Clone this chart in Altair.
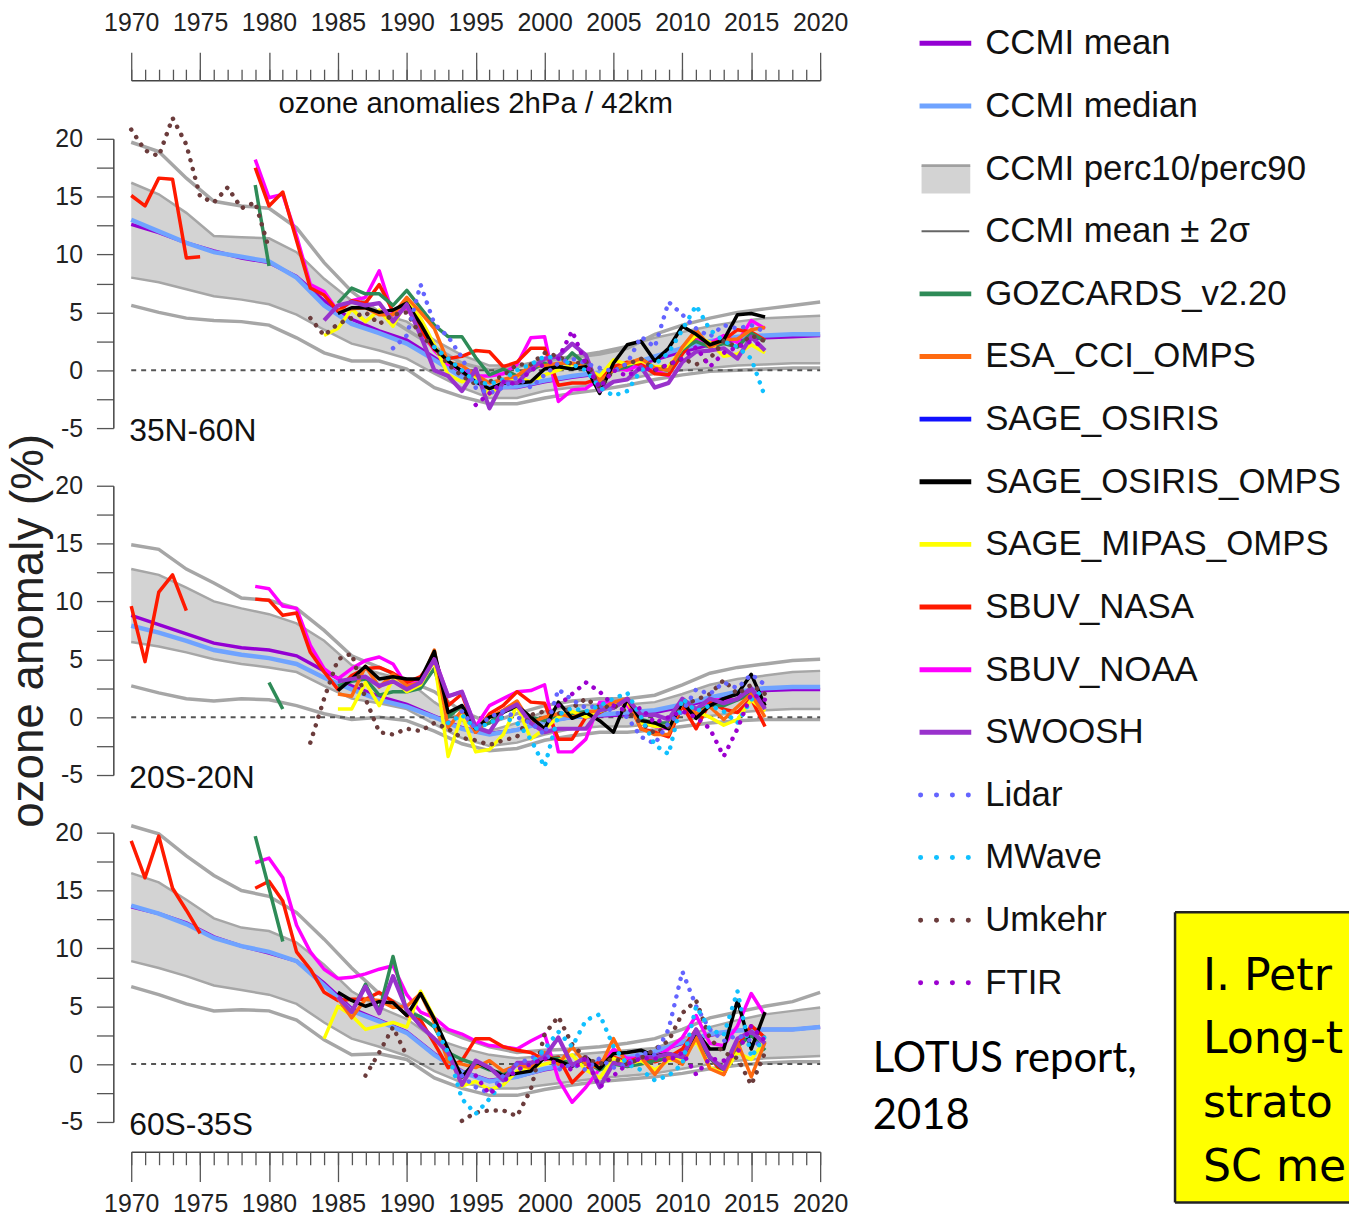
import altair as alt
import pandas as pd

# ---------------------------------------------------------------- data
MODEL_YEARS = list(range(1970, 2021, 2))

# Panel 1: 35N-60N  (CCMI model statistics)
P1_UP2 = [19.7, 18.9, 16.6, 14.6, 14.2, 14.0, 12.3, 9.3, 6.8, 5.0, 3.5, 2.0, 0.6, 0.0, 0.3, 0.8, 1.1, 1.4, 1.9, 3.1, 3.9, 4.5, 5.0, 5.3, 5.6, 5.9]
P1_P90 = [16.2, 15.2, 13.6, 11.6, 11.5, 11.4, 10.2, 7.9, 6.0, 4.9, 4.2, 2.6, 1.3, 0.4, 0.4, 0.9, 1.2, 1.6, 2.1, 2.8, 3.3, 3.8, 4.2, 4.5, 4.6, 4.7]
P1_P10 = [8.0, 7.6, 7.0, 6.4, 6.1, 5.7, 4.8, 3.5, 2.3, 1.7, 1.0, -0.3, -1.5, -2.4, -2.4, -1.8, -1.5, -1.2, -0.8, -0.3, 0.0, 0.2, 0.4, 0.5, 0.6, 0.6]
P1_LO2 = [5.6, 5.0, 4.5, 4.3, 4.2, 3.9, 2.8, 1.5, 0.8, 0.8, 0.1, -1.5, -2.3, -2.9, -2.9, -2.4, -2.0, -1.7, -1.3, -0.8, -0.4, -0.1, 0.0, 0.1, 0.2, 0.2]
P1_MEAN = [12.6, 11.9, 11.0, 10.3, 9.7, 9.3, 8.1, 6.0, 4.4, 3.4, 2.6, 1.1, -0.5, -1.5, -1.5, -1.0, -0.6, -0.3, 0.2, 0.9, 1.6, 2.2, 2.6, 2.8, 2.9, 3.0]
P1_MEDIAN = [13.0, 12.0, 11.0, 10.2, 9.8, 9.4, 8.0, 5.6, 4.0, 3.2, 2.3, 0.9, -0.6, -1.5, -1.4, -0.9, -0.5, -0.2, 0.4, 1.2, 1.9, 2.5, 2.9, 3.0, 3.1, 3.1]

# Panel 2: 20S-20N
P2_UP2 = [14.9, 14.5, 12.8, 11.6, 10.3, 10.1, 9.4, 7.5, 5.3, 4.3, 3.2, 2.2, 0.5, -0.5, 0.3, 1.0, 1.4, 1.6, 1.6, 1.9, 2.8, 3.8, 4.3, 4.6, 4.9, 5.0]
P2_P90 = [12.8, 12.3, 11.2, 10.0, 9.4, 8.9, 8.1, 6.6, 4.5, 3.8, 3.2, 1.3, -0.3, -1.2, -0.5, 0.5, 1.0, 1.1, 1.1, 1.3, 2.0, 2.8, 3.3, 3.6, 3.9, 4.0]
P2_P10 = [6.5, 6.1, 5.6, 5.0, 4.6, 4.3, 3.9, 2.7, 1.6, 1.2, 0.7, -0.6, -1.8, -2.5, -2.2, -1.5, -1.0, -0.8, -0.8, -0.6, -0.3, 0.1, 0.4, 0.6, 0.7, 0.7]
P2_LO2 = [2.7, 2.1, 1.6, 1.4, 1.6, 1.5, 1.0, 0.3, -0.2, 0.0, -0.3, -1.2, -2.3, -2.9, -2.7, -2.0, -1.6, -1.3, -1.3, -1.1, -0.8, -0.5, -0.3, -0.2, -0.2, -0.2]
P2_MEAN = [8.8, 8.0, 7.2, 6.4, 6.0, 5.8, 5.3, 4.0, 2.7, 1.8, 1.1, 0.1, -0.9, -1.4, -1.1, -0.4, 0.0, 0.1, 0.2, 0.4, 0.9, 1.5, 2.0, 2.3, 2.4, 2.4]
P2_MEDIAN = [7.9, 7.3, 6.6, 5.8, 5.4, 5.1, 4.6, 3.4, 2.4, 1.5, 0.9, 0.0, -1.0, -1.5, -1.1, -0.4, 0.0, 0.2, 0.4, 0.6, 1.1, 1.7, 2.2, 2.5, 2.6, 2.6]

# Panel 3: 60S-35S
P3_UP2 = [20.6, 19.9, 18.0, 16.3, 15.0, 14.5, 13.1, 10.8, 8.3, 6.1, 4.8, 3.3, 2.3, 1.5, 1.0, 1.2, 1.3, 1.5, 1.8, 2.2, 3.0, 4.0, 4.5, 5.0, 5.4, 6.2]
P3_P90 = [16.5, 15.7, 14.2, 12.6, 11.8, 11.5, 10.5, 8.6, 6.3, 4.9, 3.9, 2.2, 1.4, 0.8, 0.5, 0.7, 0.8, 1.0, 1.2, 1.4, 2.2, 3.2, 3.8, 4.3, 4.6, 4.9]
P3_P10 = [8.9, 8.3, 7.6, 6.8, 6.4, 6.0, 5.2, 3.6, 2.2, 1.5, 0.7, -0.6, -1.6, -2.1, -2.1, -1.8, -1.5, -1.2, -1.0, -0.8, -0.4, 0.0, 0.3, 0.5, 0.6, 0.7]
P3_LO2 = [6.7, 6.0, 5.2, 4.6, 4.7, 4.6, 3.8, 2.1, 0.8, 0.9, 0.4, -1.2, -2.1, -2.7, -2.7, -2.2, -1.8, -1.5, -1.3, -1.1, -0.8, -0.4, -0.1, 0.1, 0.2, 0.2]
P3_MEAN = [13.6, 13.0, 12.2, 11.0, 10.2, 9.6, 8.9, 7.0, 4.8, 3.8, 2.8, 0.9, -0.6, -1.4, -1.1, -0.5, -0.1, 0.1, 0.5, 1.0, 1.8, 2.5, 2.9, 3.0, 3.0, 3.2]
P3_MEDIAN = [13.7, 13.0, 12.1, 10.9, 10.2, 9.7, 8.9, 6.8, 4.6, 3.7, 2.7, 0.8, -0.7, -1.5, -1.1, -0.4, 0.0, 0.2, 0.6, 1.1, 1.9, 2.6, 2.9, 3.0, 3.0, 3.2]

# Observations: (first year, yearly values; None = gap)
P1_GOZCARDS = (1979, [16.0, 9.0, None, None, None, None, 5.8, 7.1, 6.6, 6.6, 5.6, 6.9, 5.4, 3.9, 2.9, 2.9, 1.1, -0.4, 0.1, -0.5, 0.0, 0.6, 0.2, 1.5, 0.5, -1.2, 0.0, 0.3, 1.0, 0.2, 0.0, 1.8, 2.5, 2.0, 2.3, 2.0, 3.2, 2.5])
P1_ESA = (1985, [5.1, 5.3, 5.4, 4.8, 4.8, 6.3, 5.0, 3.6, 0.7, 0.4, -0.4, -1.1, -0.8, -0.5, 0.4, 0.4, 0.6, 0.6, 0.3, -0.9, 0.0, 0.6, 1.0, 0.2, 0.0, 2.0, 3.5, 2.0, 2.6, 2.7, 3.5, 3.7])
P1_SOO = (1985, [4.9, 5.4, 5.4, 5.0, 5.2, 5.8, 4.0, 1.9, 0.8, -0.1, -1.0, -1.6, -1.1, -1.1, -1.0, 0.1, 0.3, 0.1, 0.3, -2.0, 0.6, 2.2, 2.5, 0.8, 1.9, 3.8, 3.1, 2.2, 2.6, 4.8, 4.9, 4.6])
P1_SMO = (1984, [3.0, 3.6, 5.3, 4.2, 5.2, 3.8, 6.0, 4.5, 2.2, -0.4, -1.0, -0.5, -2.1, -1.1, -0.6, -1.0, -0.4, 0.0, 0.5, 0.2, -0.5, 0.9, 0.5, 0.8, 0.3, 0.3, 1.9, 3.0, 2.4, 1.2, 1.4, 2.2, 1.5])
P1_SBUV_NASA = (1970, [15.1, 14.2, 16.6, 16.5, 9.7, 9.8, None, None, None, 17.5, 14.2, 15.4, 11.2, 7.1, 6.5, 5.1, 6.0, 5.8, 7.4, 5.1, 5.8, 3.5, 1.8, 1.0, 1.2, 1.7, 1.6, 0.3, 0.7, 1.9, 1.9, -1.3, -1.1, -1.1, -0.7, 0.3, 0.7, 0.5, -0.3, -0.4, 1.4, 3.0, 2.3, 2.6, 3.5, 3.3, 2.6])
P1_SBUV_NOAA = (1979, [18.2, 14.9, 15.2, 11.6, 7.4, 6.8, 5.1, 6.0, 6.3, 8.6, 4.8, 5.4, 3.5, 1.7, 0.5, 0.0, -0.5, -0.5, -0.3, 0.5, 2.8, 2.9, -2.7, -1.7, -1.6, -0.7, 0.2, 0.0, 0.5, 0.0, -0.5, 2.0, 2.8, 2.3, 3.0, 2.4, 4.3, 3.6])
P1_SWOOSH = (1984, [4.3, 5.6, 5.9, 5.6, 5.8, 4.2, 5.7, 3.0, 0.0, -0.5, -1.8, 0.1, -3.3, -1.0, -1.1, 0.1, 1.0, 1.2, 2.3, 1.3, -1.8, -1.0, -0.8, 0.3, -1.5, -1.1, 0.7, 1.6, 1.7, 1.9, 1.0, 2.9, 1.7])
P1_LIDAR = (1989, [1.9, 3.0, 7.4, 4.0, 2.9, 1.1, -1.5, -2.0, -1.5, -0.6, -1.5, -0.4, 0.6, 1.0, 0.6, 0.2, -0.1, 0.6, 2.9, 2.0, 5.9, 4.8, 3.6, 2.9, 3.9, 3.6, 3.9, 3.3])
P1_MWAVE = (1992, [2.0, 1.0, 0.0, -1.0, -1.2, -0.8, 0.0, 0.5, 1.2, 1.0, 0.5, 0.0, -1.5, -2.2, -1.8, 0.0, 0.5, 1.5, 3.5, 5.6, 3.5, 2.5, 2.0, 1.0, -2.3])
P1_UMKEHR = (1970, [20.8, 19.0, 18.5, 21.8, 19.5, 15.0, 14.5, 15.8, 14.0, 14.5, 10.5, None, None, 4.5, 3.0, 4.0, 4.5, 5.0, 4.0, 4.8, 5.0, 3.0, 2.0, 0.5, -0.5, -1.2, -1.0, -0.5, 0.5, 0.5, 1.5, 1.2, 0.5, 0.8, -1.5, 0.0, 0.5, 1.0, 0.0, 0.5, 1.0, 0.5, 1.0, 2.5, 2.0, 3.0, 2.5])
P1_FTIR = (1995, [-3.0, -2.0, -1.0, -1.2, 0.0, 0.5, 1.0, 3.4, 0.5, -1.5, 0.0, -0.5, 0.2, 0.0, 0.5, 1.0, 2.0, 0.3, 1.5, 2.0, 2.5, 2.0])

P2_GOZCARDS = (1980, [3.0, 0.7, None, None, None, 2.7, 3.1, 3.3, 1.9, 2.2, 2.2, 2.5, 4.2, 0.0, 1.0, -1.0, -0.5, 0.5, 0.8, 0.0, -0.3, 0.2, 0.3, 0.5, 0.5, 0.8, 1.5, -0.2, -0.5, -0.5, 1.3, 0.5, 1.0, 1.0, 1.5, 2.0, 0.8])
P2_ESA = (1985, [2.0, 1.8, 4.4, 2.6, 3.7, 2.7, 3.0, 5.8, -0.9, 0.6, -1.3, 0.0, 0.6, 1.4, -0.5, 0.0, 0.3, 0.0, 0.4, 0.6, 1.3, 1.6, -1.0, -1.5, -1.5, 1.3, 0.3, 0.9, -0.2, 0.9, 2.0, 0.0])
P2_SOO = (1985, [2.3, 3.3, 4.4, 3.3, 3.5, 3.3, 3.3, 5.7, 0.4, 1.0, -1.0, 0.0, 0.4, 1.0, 0.0, -1.0, 1.3, -0.1, 0.4, -0.3, -1.3, 1.6, -0.3, -0.5, -1.0, 1.3, -0.1, 1.0, 1.6, 2.0, 3.7, 1.0])
P2_SMO = (1985, [0.7, 0.7, 3.0, 1.0, 3.3, 2.2, 2.8, 4.9, -3.4, 0.2, -3.0, -2.8, -1.5, 1.0, -1.9, -1.0, 0.0, 0.5, 0.0, 0.5, 1.0, 1.3, -0.5, -0.8, -0.8, 1.2, 0.5, 0.0, -0.7, -0.2, 1.5, 0.5])
P2_SBUV_NASA = (1970, [9.6, 4.8, 10.8, 12.3, 9.2, None, None, None, None, 10.2, 10.1, 8.8, 9.0, 5.6, 3.9, 2.4, 3.6, 4.2, 4.3, 3.8, 3.0, 3.5, 5.0, 1.0, 2.0, -1.3, 0.3, 1.0, 2.2, 1.3, 1.2, -1.9, -1.9, 0.0, 0.4, 1.0, 1.5, -1.0, -1.3, -1.7, 1.0, -1.0, 1.3, 0.7, 0.4, 1.6, -0.8])
P2_SBUV_NOAA = (1979, [11.3, 11.1, 9.6, 9.4, 6.2, 4.2, 3.3, 4.2, 4.9, 5.2, 4.6, 2.7, 3.4, 5.2, 1.8, 2.2, -0.8, 1.0, 1.6, 2.2, 2.3, 2.8, -3.0, -3.0, -1.9, 1.3, 1.3, 1.0, -0.5, -0.8, -1.0, 1.0, 0.0, 1.5, 1.5, 1.5, 2.5, 1.0])
P2_SWOOSH = (1985, [3.1, 3.3, 3.5, 2.7, 3.1, 2.4, 3.0, 5.0, 1.8, 2.2, -0.9, -1.3, 0.5, 1.1, -0.5, -1.3, -1.0, -1.0, -1.0, 0.6, 0.8, 1.6, 0.2, 0.2, -0.2, 1.6, 0.7, 1.6, 1.2, 1.6, 2.5, 0.7])
P2_LIDAR = (1994, [0.5, -1.0, 0.0, 0.5, 0.0, -0.5, -1.5, 2.4, 1.5, 0.8, 1.0, 0.5, 0.0, -1.7, -2.3, -0.5, 0.5, 2.4, 2.0, 3.0, 2.5, 3.7, 2.8])
P2_MWAVE = (1993, [-0.5, 0.2, -1.0, -0.5, 0.0, -0.5, -1.9, -4.3, 0.2, 0.8, 0.5, 1.0, 1.6, 2.1, 0.0, -2.4, -3.2, 1.6, 0.5, 1.0, 0.5, -0.5, 1.5, 2.5])
P2_UMKEHR = (1983, [-2.2, 1.6, 5.0, 5.5, 1.6, -1.3, -1.5, -1.0, -1.2, -0.5, -1.0, -1.8, -2.0, -2.4, -2.0, -1.7, 0.2, 0.5, 0.3, 0.8, 1.6, 0.8, 1.0, 0.5, -0.5, -1.4, -0.8, 1.0, 1.5, 2.0, 3.2, 2.0, 2.8, 2.0])
P2_FTIR = (2001, [1.0, 2.0, 3.0, 2.2, 1.0, 0.5, 0.8, -0.5, 0.0, 0.5, 0.0, -1.0, -3.4, -1.0, 2.0, 1.5])

P3_GOZCARDS = (1979, [19.7, 15.2, 10.6, None, None, None, 5.0, 4.5, 6.9, 4.6, 9.3, 4.5, 4.1, 3.2, 1.0, 0.4, 0.0, -0.5, -0.8, 0.0, 0.0, 0.5, 0.5, 0.0, 0.2, -0.5, 0.0, -0.2, 0.0, 0.3, 0.5, 0.8, 2.5, 0.5, -0.5, 1.5, 2.5, 1.2])
P3_ESA = (1985, [5.7, 4.0, 5.6, 5.5, 4.9, 5.0, 6.1, 3.6, 0.2, 0.0, -0.3, 0.3, -0.6, -0.1, -0.3, 1.0, 0.0, 1.5, 0.0, -0.3, 2.2, -0.1, 0.6, -0.9, 0.6, 0.0, 2.3, -0.4, -0.9, 1.9, -1.1, 1.9])
P3_SOO = (1985, [6.2, 5.5, 5.0, 5.4, 5.3, 4.2, 6.1, 3.9, 1.3, -1.1, 0.2, -0.4, -1.0, -0.8, -0.6, 0.6, 0.3, -0.2, 0.6, -0.4, 0.9, 1.0, 1.2, 0.7, 0.9, 0.6, 2.8, 1.3, 1.3, 5.5, 1.3, 4.5])
P3_SMO = (1984, [2.2, 5.0, 4.2, 3.0, 3.3, 3.6, 3.2, 6.3, 4.0, 1.0, -1.9, -1.5, -2.2, -1.8, -0.6, -0.3, 0.0, 0.3, 0.8, -0.5, -1.2, 0.5, 0.0, 0.3, -0.5, 0.3, 0.5, 2.0, -0.3, -0.8, 1.0, 0.4, 2.0])
P3_SBUV_NASA = (1970, [19.3, 16.1, 19.7, 15.2, 13.3, 11.3, None, None, None, 15.2, 15.8, 14.1, 9.7, 8.2, 6.2, 5.5, 5.6, 5.6, 6.2, 5.4, 4.2, 3.8, 1.8, -0.3, 0.3, 2.2, 2.2, 1.5, 1.2, 1.0, 0.4, 0.6, -1.6, -0.4, 0.2, 0.6, 0.2, 0.6, 0.2, 0.6, 1.3, 3.0, 0.6, -0.9, 1.5, 3.3, 2.3])
P3_SBUV_NOAA = (1979, [17.4, 17.8, 16.1, 12.0, 9.7, 8.2, 7.4, 7.5, 7.8, 8.2, 8.5, 6.0, 4.5, 4.0, 3.0, 2.6, 2.0, 1.6, 1.5, 1.3, 2.0, 2.6, -1.3, -3.3, -2.0, -0.4, 1.3, 0.5, 0.5, 0.5, 1.3, 2.3, 4.2, 1.8, 1.6, 3.3, 6.1, 4.2])
P3_SWOOSH = (1985, [5.8, 4.5, 6.7, 4.4, 7.6, 4.7, 3.3, 2.2, 1.0, -1.8, 0.3, -0.3, -1.4, 0.1, 0.1, 0.6, 2.3, -0.1, 0.6, -2.0, 0.1, -0.1, 0.6, 0.6, 0.9, 0.6, 3.0, 0.6, -0.4, 2.2, 2.8, 1.8])
P3_LIDAR = (1994, [-1.0, -2.0, -2.5, -1.0, 0.0, 0.5, 1.0, -0.5, 0.0, -0.5, 0.5, -0.3, 0.0, 1.0, 0.8, 3.0, 8.0, 5.0, 3.0, 2.0, 2.5, 2.0, 1.5])
P3_MWAVE = (1992, [3.3, 1.0, -3.0, -4.3, -3.0, -1.5, -0.5, 0.0, 1.3, 2.8, 1.5, 3.8, 4.3, 1.5, 0.0, -0.5, -1.4, -1.0, 0.0, 5.0, 3.0, 2.5, 6.3, 0.6, 2.4])
P3_UMKEHR = (1987, [-1.0, 1.0, 3.2, 0.7, None, None, None, -4.9, -4.2, -4.0, -4.0, -4.5, -2.2, 2.6, 4.1, 1.7, 0.5, 0.0, 0.5, 0.0, 0.5, 1.3, 2.0, 4.4, 5.5, 2.2, 1.0, 0.5, -1.8, 1.0])
P3_FTIR = (1995, [-1.0, -2.6, -1.5, -0.5, 0.0, 0.5, 0.0, -0.5, 0.5, -2.0, -1.0, 0.0, 0.5, 0.5, 0.3, 1.0, -0.9, 0.5, 0.3, 1.0, 3.3, 2.0])

PANEL_LABELS = ["35N-60N", "20S-20N", "60S-35S"]
LEGEND_NAMES = ["CCMI mean", "CCMI median", "CCMI perc10/perc90", "CCMI mean \u00b1 2\u03c3",
                "GOZCARDS_v2.20", "ESA_CCI_OMPS", "SAGE_OSIRIS", "SAGE_OSIRIS_OMPS",
                "SAGE_MIPAS_OMPS", "SBUV_NASA", "SBUV_NOAA", "SWOOSH",
                "Lidar", "MWave", "Umkehr", "FTIR"]
LEGEND_KIND = ["line", "line", "band", "thin", "line", "line", "line", "line",
               "line", "line", "line", "line", "dot", "dot", "dot", "dot"]
SERIES_NAMES = ["CCMI mean", "CCMI median", "GOZCARDS_v2.20", "ESA_CCI_OMPS", "SAGE_OSIRIS",
                "SAGE_OSIRIS_OMPS", "SAGE_MIPAS_OMPS", "SBUV_NASA", "SBUV_NOAA", "SWOOSH",
                "Lidar", "MWave", "Umkehr", "FTIR"]
SERIES_COLORS = ["#9400d3", "#6fa3ff", "#2e8b57", "#ff6a10", "#1010ff",
                 "#000000", "#ffff00", "#ff1a00", "#ff00ff", "#9932cc",
                 "#6464ff", "#10c0ff", "#6b3c3c", "#9c00d0"]
DRAW_ORDER = ["SBUV_NOAA", "SBUV_NASA", "GOZCARDS_v2.20", "SAGE_MIPAS_OMPS", "ESA_CCI_OMPS",
              "SAGE_OSIRIS_OMPS", "SWOOSH", "Umkehr", "Lidar", "MWave", "FTIR"]
DOTTED = {"Lidar", "MWave", "Umkehr", "FTIR"}

PANELS = [
    dict(label=PANEL_LABELS[0], up2=P1_UP2, p90=P1_P90, p10=P1_P10, lo2=P1_LO2, mean=P1_MEAN, median=P1_MEDIAN,
         obs={"GOZCARDS_v2.20": P1_GOZCARDS, "ESA_CCI_OMPS": P1_ESA, "SAGE_OSIRIS_OMPS": P1_SOO,
              "SAGE_MIPAS_OMPS": P1_SMO, "SBUV_NASA": P1_SBUV_NASA, "SBUV_NOAA": P1_SBUV_NOAA,
              "SWOOSH": P1_SWOOSH, "Lidar": P1_LIDAR, "MWave": P1_MWAVE, "Umkehr": P1_UMKEHR, "FTIR": P1_FTIR}),
    dict(label=PANEL_LABELS[1], up2=P2_UP2, p90=P2_P90, p10=P2_P10, lo2=P2_LO2, mean=P2_MEAN, median=P2_MEDIAN,
         obs={"GOZCARDS_v2.20": P2_GOZCARDS, "ESA_CCI_OMPS": P2_ESA, "SAGE_OSIRIS_OMPS": P2_SOO,
              "SAGE_MIPAS_OMPS": P2_SMO, "SBUV_NASA": P2_SBUV_NASA, "SBUV_NOAA": P2_SBUV_NOAA,
              "SWOOSH": P2_SWOOSH, "Lidar": P2_LIDAR, "MWave": P2_MWAVE, "Umkehr": P2_UMKEHR, "FTIR": P2_FTIR}),
    dict(label=PANEL_LABELS[2], up2=P3_UP2, p90=P3_P90, p10=P3_P10, lo2=P3_LO2, mean=P3_MEAN, median=P3_MEDIAN,
         obs={"GOZCARDS_v2.20": P3_GOZCARDS, "ESA_CCI_OMPS": P3_ESA, "SAGE_OSIRIS_OMPS": P3_SOO,
              "SAGE_MIPAS_OMPS": P3_SMO, "SBUV_NASA": P3_SBUV_NASA, "SBUV_NOAA": P3_SBUV_NOAA,
              "SWOOSH": P3_SWOOSH, "Lidar": P3_LIDAR, "MWave": P3_MWAVE, "Umkehr": P3_UMKEHR, "FTIR": P3_FTIR}),
]

# ---------------------------------------------------------------- style
SANS = "'Liberation Sans', Arial, sans-serif"
W, H = 693, 291
XS = alt.Scale(domain=[1970, 2020], nice=False, zero=False)
YS = alt.Scale(domain=[-5, 20], nice=False, zero=False)
CS = alt.Scale(domain=SERIES_NAMES, range=SERIES_COLORS)
AX_GREY = "#555555"
TICK_FS = 25
BOX_RIGHT = 1225


def X(axis=None):
    return alt.X("year:Q", scale=XS, axis=axis)


def Y(field="value", axis=None):
    return alt.Y(f"{field}:Q", scale=YS, axis=axis)


def y_axis(title):
    kw = dict(values=[-5, -2.5, 0, 2.5, 5, 7.5, 10, 12.5, 15, 17.5, 20],
              labelExpr="datum.value % 5 == 0 ? '' + datum.value : ''",
              tickSize=17, tickColor=AX_GREY, tickWidth=1.3, domainColor="#444", domainWidth=1.5,
              labelFont=SANS, labelFontSize=TICK_FS, labelColor="#222", labelPadding=14,
              offset=18, grid=False)
    if title:
        kw.update(title=title, titleFont=SANS, titleFontSize=46, titleFontWeight="normal",
                  titleColor="#222", titlePadding=2)
    else:
        kw.update(title=None)
    return alt.Axis(**kw)


def x_major(orient, offset, ticksize, pad):
    return alt.Axis(orient=orient, values=list(range(1970, 2021, 5)), format="d", tickSize=ticksize,
                    offset=offset, labelPadding=pad, labelFont=SANS, labelFontSize=TICK_FS, labelColor="#222",
                    labelFlush=False, labelOverlap=False, domainColor="#444", domainWidth=1.5,
                    tickColor=AX_GREY, tickWidth=1.3, grid=False, title=None)


def x_minor(orient, offset, ticksize):
    return alt.Axis(orient=orient, values=list(range(1970, 2021)), tickSize=ticksize, offset=offset,
                    labels=False, domain=False, tickColor=AX_GREY, tickWidth=1.3, grid=False, title=None)


def obs_frame(obs):
    rows = []
    for name, (start, vals) in obs.items():
        seg = 0
        for i, v in enumerate(vals):
            if v is None:
                seg += 1
                continue
            rows.append({"series": name, "seg": seg, "year": start + i, "value": v})
    return pd.DataFrame(rows)


def build_panel(p, idx):
    mdf = pd.DataFrame({"year": MODEL_YEARS, "up2": p["up2"], "p90": p["p90"], "p10": p["p10"],
                        "lo2": p["lo2"], "CCMI mean": p["mean"], "CCMI median": p["median"]})
    layers = []
    layers.append(alt.Chart(mdf).mark_area(color="#d3d3d3", opacity=1).encode(
        x=X(), y=Y("p10"), y2="p90:Q"))
    edges = mdf.melt(id_vars="year", value_vars=["p90", "p10"], var_name="curve", value_name="value")
    layers.append(alt.Chart(edges).mark_line(color="#a6a6a6", strokeWidth=2.5).encode(
        x=X(), y=Y(), detail="curve:N"))
    sig = mdf.melt(id_vars="year", value_vars=["up2", "lo2"], var_name="curve", value_name="value")
    layers.append(alt.Chart(sig).mark_line(color="#a6a6a6", strokeWidth=3.5).encode(
        x=X(), y=Y(), detail="curve:N"))

    zero = pd.DataFrame({"year": [1970, 2020], "value": [0, 0]})
    if idx == 0:
        xa = x_major("top", 59, 28, 17)
        xm = x_minor("top", 59, 11)
    elif idx == 2:
        xa = x_major("bottom", 30, 30, 10)
        xm = x_minor("bottom", 30, 13)
    else:
        xa, xm = None, None
    ytitle = "ozone anomaly (%)" if idx == 1 else None
    layers.append(alt.Chart(zero).mark_line(color="#555555", strokeDash=[5, 5], strokeWidth=2).encode(
        x=X(xa), y=Y(axis=y_axis(ytitle))))
    if xm is not None:
        layers.append(alt.Chart(zero).mark_line(opacity=0).encode(x=X(xm), y=Y()))

    cm = mdf.melt(id_vars="year", value_vars=["CCMI mean"], var_name="series", value_name="value")
    cmed = mdf.melt(id_vars="year", value_vars=["CCMI median"], var_name="series", value_name="value")
    layers.append(alt.Chart(cm).mark_line(strokeWidth=3.5).encode(
        x=X(), y=Y(), color=alt.Color("series:N", scale=CS, legend=None)))
    layers.append(alt.Chart(cmed).mark_line(strokeWidth=4.5).encode(
        x=X(), y=Y(), color=alt.Color("series:N", scale=CS, legend=None)))

    odf = obs_frame(p["obs"])
    for name in DRAW_ORDER:
        d = odf[odf.series == name]
        if d.empty:
            continue
        if name in DOTTED:
            mk = alt.Chart(d).mark_line(strokeDash=[0.1, 9], strokeCap="round", strokeWidth=4.5)
        else:
            mk = alt.Chart(d).mark_line(strokeWidth=4.2 if name == "SWOOSH" else 3.5, strokeJoin="round")
        layers.append(mk.encode(x=X(), y=Y(), color=alt.Color("series:N", scale=CS, legend=None),
                                detail="seg:N"))

    lab = pd.DataFrame({"year": [1970], "value": [-5], "text": [p["label"]]})
    layers.append(alt.Chart(lab).mark_text(align="left", baseline="alphabetic", dx=-2, dy=13,
                                           font=SANS, fontSize=32, color="#111").encode(
        x=X(), y=Y(), text="text:N"))

    if idx == 0:
        ttl = pd.DataFrame({"year": [1995], "text": ["ozone anomalies 2hPa / 42km"]})
        layers.append(alt.Chart(ttl).mark_text(align="center", baseline="middle", font=SANS,
                                               fontSize=29.5, color="#111").encode(
            x=X(), y=alt.value(-35), text="text:N"))
    if idx == 2:
        lotus = pd.DataFrame({"text": ["LOTUS report,\n2018"]})
        layers.append(alt.Chart(lotus).mark_text(align="left", baseline="alphabetic", lineBreak="\n",
                                                 lineHeight=57, font="Lato, 'Open Sans', sans-serif",
                                                 fontSize=42, color="#000").encode(
            x=alt.value(746), y=alt.value(241), text="text:N"))
        box = pd.DataFrame({"text": ["I. Petr\nLong-t\nstrato\nSC me"]})
        layers.append(alt.Chart(box).mark_rect(color="#ffff00").encode(
            x=alt.value(1050), x2=alt.value(BOX_RIGHT), y=alt.value(80), y2=alt.value(372)))
        layers.append(alt.Chart(box).mark_rule(color="#222", strokeWidth=2.5).encode(
            x=alt.value(1050), y=alt.value(80), y2=alt.value(372)))
        layers.append(alt.Chart(box).mark_rule(color="#222", strokeWidth=2.5).encode(
            x=alt.value(1050), x2=alt.value(BOX_RIGHT), y=alt.value(80)))
        layers.append(alt.Chart(box).mark_rule(color="#222", strokeWidth=2.5).encode(
            x=alt.value(1050), x2=alt.value(BOX_RIGHT), y=alt.value(372)))
        layers.append(alt.Chart(box).mark_text(align="left", baseline="alphabetic", lineBreak="\n",
                                               lineHeight=64, limit=BOX_RIGHT - 1078, ellipsis="\u200b",
                                               font="'Comic Sans MS', 'DejaVu Sans', sans-serif",
                                               fontSize=44.5, color="#000").encode(
            x=alt.value(1078), y=alt.value(158), text="text:N"))

    core = alt.layer(*layers).resolve_axis(x="independent", y="independent")
    if idx != 0:
        return core.properties(width=W, height=H)

    # legend (drawn beside the top panel through its own index scale)
    leg = pd.DataFrame({"name": LEGEND_NAMES, "idx": list(range(len(LEGEND_NAMES))), "kind": LEGEND_KIND})
    LY = alt.Y("idx:Q", scale=alt.Scale(domain=[0, 15], range=[-96, 849]), axis=None)
    base = alt.Chart(leg)
    leg_layers = [
        base.transform_filter("datum.kind == 'line'").mark_rule(strokeWidth=5).encode(
            x=alt.value(793), x2=alt.value(845), y=LY,
            color=alt.Color("name:N", scale=CS, legend=None)),
        base.transform_filter("datum.kind == 'thin'").mark_rule(color="#666666", strokeWidth=2).encode(
            x=alt.value(795), x2=alt.value(843), y=LY),
        base.transform_filter("datum.kind == 'band'").mark_rule(color="#d3d3d3", strokeWidth=28,
                                                                 yOffset=11).encode(
            x=alt.value(795), x2=alt.value(844), y=LY),
        base.transform_filter("datum.kind == 'band'").mark_rule(color="#a0a0a0", strokeWidth=3,
                                                                 yOffset=-3).encode(
            x=alt.value(795), x2=alt.value(844), y=LY),
        base.transform_filter("datum.kind == 'dot'").mark_rule(strokeDash=[0.1, 15.9], strokeCap="round",
                                                                strokeWidth=5).encode(
            x=alt.value(794), x2=alt.value(845), y=LY,
            color=alt.Color("name:N", scale=CS, legend=None)),
        base.mark_text(align="left", baseline="middle", font=SANS, fontSize=35, color="#111").encode(
            x=alt.value(859), y=LY, text="name:N"),
    ]
    return alt.layer(core, *leg_layers).resolve_scale(y="independent").properties(width=W, height=H)


panels = [build_panel(p, i) for i, p in enumerate(PANELS)]

chart = alt.vconcat(*panels, spacing=58, bounds="flush").resolve_scale(
    x="independent", y="independent"
).properties(
    padding={"left": 6, "right": 0, "top": 7, "bottom": 0},
    background="white",
).configure_view(stroke=None)

chart.save("out.html", embed_options={"renderer": "svg", "actions": False})
